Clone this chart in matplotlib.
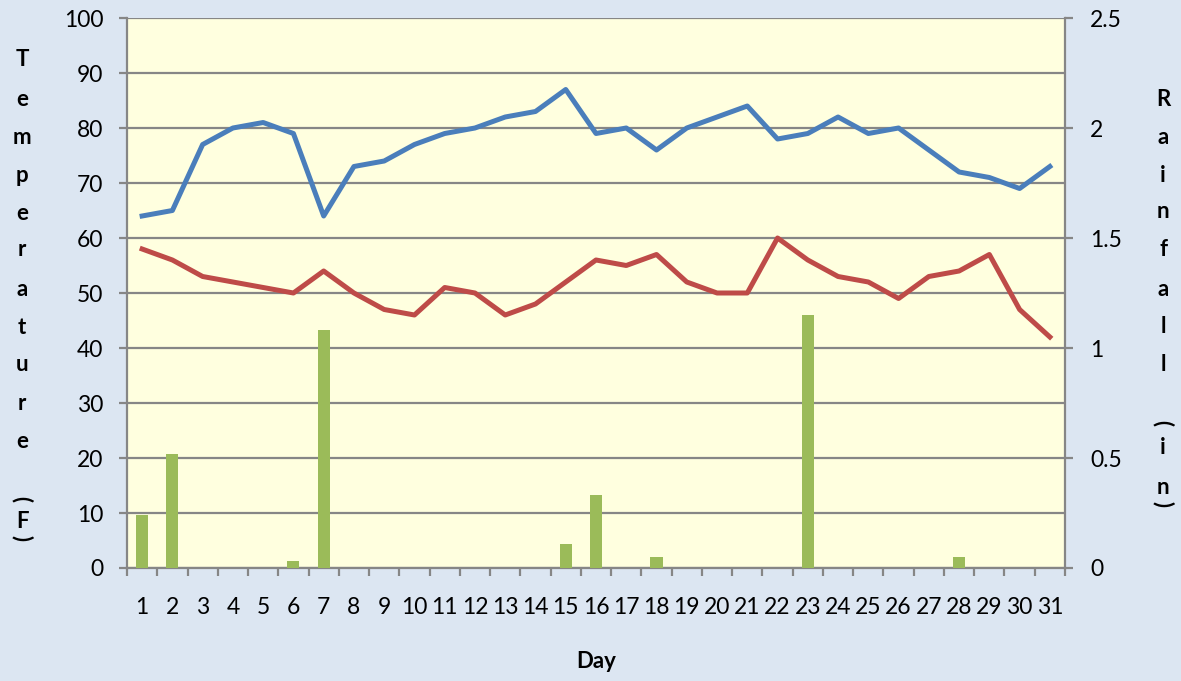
import numpy as np
import matplotlib.pyplot as plt
from matplotlib.ticker import FixedLocator, NullFormatter

plt.rcParams["font.family"] = ["Lato", "DejaVu Sans"]

days = list(range(1, 32))
temp_high = [64, 65, 77, 80, 81, 79, 64, 73, 74, 77, 79, 80, 82, 83, 87, 79,
             80, 76, 80, 82, 84, 78, 79, 82, 79, 80, 76, 72, 71, 69, 73]
temp_low = [58, 56, 53, 52, 51, 50, 54, 50, 47, 46, 51, 50, 46, 48, 52, 56,
            55, 57, 52, 50, 50, 60, 56, 53, 52, 49, 53, 54, 57, 47, 42]
rainfall = [0.24, 0.52, 0, 0, 0, 0.03, 1.08, 0, 0, 0, 0, 0, 0, 0, 0.11, 0.33,
            0, 0.05, 0, 0, 0, 0, 1.15, 0, 0, 0, 0, 0.05, 0, 0, 0]

W, H = 1181, 681
bg = "#dce6f2"
grey = "#868686"

fig = plt.figure(figsize=(W / 100, H / 100), dpi=100, facecolor=bg)
ax = fig.add_axes([127 / W, 1 - 568 / H, (1065 - 127) / W, (568 - 18) / H])
ax.set_facecolor("#ffffdf")

ax.plot(days, temp_high, color="#4a7ebb", lw=3.6, solid_joinstyle="round", zorder=3)
ax.plot(days, temp_low, color="#be4b48", lw=3.6, solid_joinstyle="round", zorder=3)

ax.set_xlim(0.5, 31.5)
ax.set_ylim(0, 100)
ax.set_yticks(np.arange(0, 101, 10))
ax.grid(axis="y", color=grey, lw=1.6)
ax.set_axisbelow(True)

ax.xaxis.set_major_locator(FixedLocator(np.arange(0.5, 32, 1)))
ax.xaxis.set_major_formatter(NullFormatter())
ax.xaxis.set_minor_locator(FixedLocator(days))
ax.set_xticklabels([str(d) for d in days], minor=True)
ax.tick_params(axis="x", which="major", length=6, width=1.6, color=grey, direction="out")
ax.tick_params(axis="x", which="minor", length=0, pad=21, labelsize=16.5)
ax.tick_params(axis="y", length=6, width=1.6, color=grey, pad=11, labelsize=16.5)

for s in ["top", "right"]:
    ax.spines[s].set_visible(False)
for s in ["left", "bottom"]:
    ax.spines[s].set_color(grey)
    ax.spines[s].set_linewidth(1.6)

ax2 = ax.twinx()
ax2.bar(days, rainfall, width=0.4, color="#9bbb59", zorder=2)
ax2.set_ylim(0, 2.5)
ax2.set_yticks([0, 0.5, 1, 1.5, 2, 2.5])
ax2.set_yticklabels(["0", "0.5", "1", "1.5", "2", "2.5"])
ax2.tick_params(axis="y", length=6, width=1.6, color=grey, pad=12, labelsize=16.5)
for s in ["top", "left", "bottom"]:
    ax2.spines[s].set_visible(False)
ax2.spines["right"].set_color(grey)
ax2.spines["right"].set_linewidth(1.6)

fig.text(596 / W, 1 - 662 / H, "Day", ha="center", va="center",
         fontsize=16, fontweight="bold")

# stacked axis titles, as drawn in the spreadsheet
left_letters = list("Temperature") + ["(", "F", ")"]
left_y = [60, 100, 138, 175, 213, 250, 290, 328, 365, 403, 441, 499, 522, 538]
for ch, y in zip(left_letters, left_y):
    rot = -90 if ch in "()" else 0
    fig.text(22 / W, 1 - y / H, ch, ha="center", va="center", rotation=rot,
             fontsize=16, fontweight="bold")

right_letters = list("Rainfall") + ["(", "i", "n", ")"]
right_y = [100, 137, 175, 212, 250, 290, 327, 365, 423, 448, 487, 504]
for ch, y in zip(right_letters, right_y):
    rot = -90 if ch in "()" else 0
    fig.text(1163 / W, 1 - y / H, ch, ha="center", va="center", rotation=rot,
             fontsize=16, fontweight="bold")

fig.savefig("out.png", dpi=100, facecolor=bg)
